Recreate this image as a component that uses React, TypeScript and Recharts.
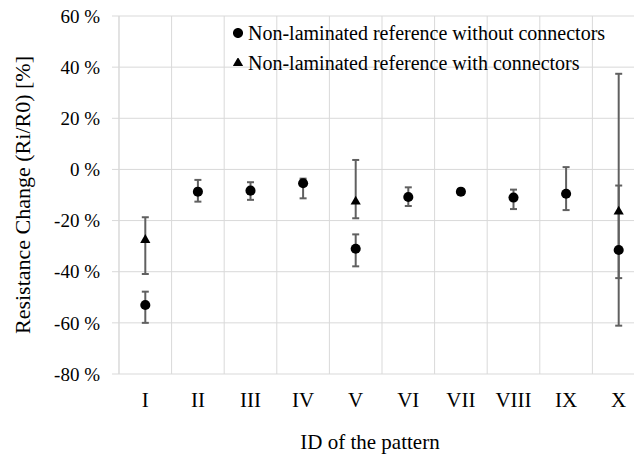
import {
  ScatterChart,
  Scatter,
  XAxis,
  YAxis,
  CartesianGrid,
  ErrorBar,
  ReferenceLine,
  Legend,
  Symbols,
} from "recharts";

const categories = ["I", "II", "III", "IV", "V", "VI", "VII", "VIII", "IX", "X"];
const yTicks = [-80, -60, -40, -20, 0, 20, 40, 60];
const seriesNames = [
  "Non-laminated reference without connectors",
  "Non-laminated reference with connectors",
];

// Non-laminated reference without connectors
const withoutValues = [-53.0, -8.7, -8.3, -5.4, -31.0, -10.8, -8.7, -11.0, -9.5, -31.5];
const withoutErrLow = [7.0, 3.9, 3.6, 5.9, 6.9, 3.5, 1.0, 4.5, 6.4, 29.6];
const withoutErrHigh = [5.2, 4.6, 3.3, 1.8, 5.6, 3.8, 1.0, 3.1, 10.4, 25.2];

// Non-laminated reference with connectors
const withCategories = ["I", "V", "X"];
const withValues = [-27.6, -12.6, -16.5];
const withErrLow = [13.3, 6.5, 26.0];
const withErrHigh = [8.9, 16.3, 53.9];

const FONT = "'Liberation Serif', 'Times New Roman', serif";
const GRID = "#d9d9d9";
const ERR = "#606060";

const withoutData = categories.map((c, i) => ({
  x: i + 0.5,
  y: withoutValues[i],
  err: [withoutErrLow[i], withoutErrHigh[i]],
}));

const withData = withCategories.map((c, i) => ({
  x: categories.indexOf(c) + 0.5,
  y: withValues[i],
  err: [withErrLow[i], withErrHigh[i]],
}));

const circleShape = (p: any) => (
  <Symbols cx={p.cx} cy={p.cy} type="circle" size={80} fill="#000" />
);
const triangleShape = (p: any) => (
  <Symbols cx={p.cx} cy={p.cy} type="triangle" size={45} fill="#000" />
);

function LegendBox({ payload }: any) {
  const items = [...(payload || [])].sort(
    (a: any, b: any) => seriesNames.indexOf(a.value) - seriesNames.indexOf(b.value)
  );
  return (
    <div style={{ fontFamily: FONT, fontSize: 20, color: "#000" }}>
      {items.map((e: any) => (
        <div key={e.value} style={{ display: "flex", alignItems: "center", height: 30, whiteSpace: "nowrap" }}>
          <svg width={10} height={10} style={{ display: "block", marginRight: 5 }}>
            <Symbols
              cx={5}
              cy={5}
              type={e.type === "triangle" ? "triangle" : "circle"}
              size={e.type === "triangle" ? 45 : 80}
              fill="#000"
            />
          </svg>
          <span>{e.value}</span>
        </div>
      ))}
    </div>
  );
}

export default function App() {
  return (
    <div style={{ width: 634, marginTop: -8, overflow: "hidden" }}>
      <ScatterChart width={650} height={456} margin={{ top: 16, right: 13, left: 0, bottom: 0 }}>
        <CartesianGrid vertical={false} stroke={GRID} />
        {categories.map((c, i) => (
          <ReferenceLine key={c} x={i} stroke={GRID} />
        ))}
        <ReferenceLine x={categories.length} stroke={GRID} />
        <XAxis
          type="number"
          dataKey="x"
          domain={[0, categories.length]}
          ticks={categories.map((c, i) => i + 0.5)}
          tickFormatter={(v: number) => categories[Math.floor(v)]}
          interval={0}
          axisLine={false}
          tickLine={false}
          tickSize={0}
          tickMargin={18}
          height={82}
          tick={{ fill: "#000", fontSize: 21, fontFamily: FONT }}
          label={{
            value: "ID of the pattern",
            position: "insideBottom",
            offset: 7,
            dx: -12,
            style: { fill: "#000", fontSize: 21, fontFamily: FONT },
          }}
        />
        <YAxis
          type="number"
          dataKey="y"
          domain={[-80, 60]}
          ticks={yTicks}
          interval={0}
          tickFormatter={(v: number) => `${v} %`}
          width={111}
          axisLine={{ stroke: GRID }}
          tickLine={{ stroke: GRID }}
          tickSize={7}
          tickMargin={12}
          tick={{ fill: "#000", fontSize: 19, fontFamily: FONT }}
          label={{
            value: "Resistance Change (Ri/R0) [%]",
            angle: -90,
            position: "insideLeft",
            offset: 14,
            style: { fill: "#000", fontSize: 22, fontFamily: FONT, textAnchor: "middle" },
          }}
        />
        <Legend
          layout="vertical"
          verticalAlign="middle"
          align="center"
          content={<LegendBox />}
          wrapperStyle={{ top: 18, left: 225, width: 420 }}
        />
        <Scatter
          name={seriesNames[0]}
          data={withoutData}
          legendType="circle"
          fill="#000"
          shape={circleShape}
          isAnimationActive={false}
        >
          <ErrorBar dataKey="err" direction="y" width={3.5} stroke={ERR} strokeWidth={2} />
        </Scatter>
        <Scatter
          name={seriesNames[1]}
          data={withData}
          legendType="triangle"
          fill="#000"
          shape={triangleShape}
          isAnimationActive={false}
        >
          <ErrorBar dataKey="err" direction="y" width={3.5} stroke={ERR} strokeWidth={2} />
        </Scatter>
      </ScatterChart>
    </div>
  );
}
